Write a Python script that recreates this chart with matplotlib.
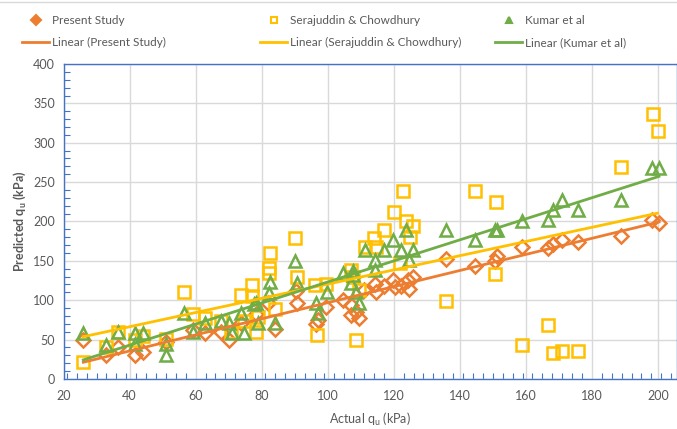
import numpy as np
import matplotlib
matplotlib.use("Agg")
import matplotlib.pyplot as plt
from matplotlib.lines import Line2D
from matplotlib.ticker import MultipleLocator

plt.rcParams['font.family'] = ['Lato', 'DejaVu Sans']

# Actual vs predicted bearing capacity (kPa)
present_x = [26, 33, 36.5, 41.5, 44, 51, 59.2, 62.7, 67.8, 70.1, 73.8, 78.4, 81.9, 84,
             90.5, 90.7, 96.5, 97, 99.6, 104.5, 107.2, 107.2, 108.7, 109.5, 110.9, 114.2,
             114.5, 117, 119.8, 120.3, 122.3, 124.4, 125.7, 124.7, 135.8, 144.7, 150.6,
             151.3, 158.7, 166.8, 168.1, 170.8, 175.9, 188.7, 198.3, 200.3]
present_y = [50, 31, 40, 31, 34, 47, 62, 59, 60, 50, 71, 82, 96, 63,
             112, 96, 70, 75, 92, 100, 94, 81, 85, 77, 113, 121,
             110, 118, 126, 117, 118, 126, 129, 114, 153, 143.5, 150,
             156, 168, 166, 172, 176.5, 174, 181, 202, 198.5]

seraj_x = [26, 33, 36.5, 41.5, 44, 51, 56.4, 59.2, 62.7, 67.8, 70.8, 73.8, 74.8, 77.2,
           77.2, 78.9, 78.2, 82.2, 82.4, 82.2, 84, 90, 90.7, 96.9, 96.1, 99.4, 107.2,
           107.7, 108.7, 109.5, 111.2, 113.9, 114.5, 117, 120.1, 121.8, 122.8, 123.8,
           125.9, 124.9, 135.8, 144.7, 151.1, 150.6, 158.7, 166.8, 168.1, 170.8, 175.9,
           188.7, 198.4, 199.9]
seraj_y = [21, 40, 60, 50, 55, 51, 111, 82.5, 77, 73, 60, 107, 73, 119,
           106, 79, 60, 140.5, 160, 135, 88.5, 179, 129, 56, 119, 121, 138,
           130, 49.5, 113, 168, 179, 167, 189, 212.5, 147, 239, 200,
           194, 180, 99.5, 239, 225, 133, 43, 69, 33, 35, 35,
           269, 336.5, 315]

kumar_x = [26, 33, 36.5, 41.5, 41.5, 44, 51, 51, 56.4, 59.2, 62.7, 67.8, 70.1, 71.1,
           73.8, 74.8, 77.6, 78.4, 79, 82.4, 82.2, 84, 90.2, 90.7, 96.6, 97.1, 99.8,
           104.5, 107.7, 107.7, 107.2, 108.7, 109.5, 111.2, 114.2, 114.2, 117, 119.8,
           122.3, 123.6, 124.7, 125.9, 135.8, 144.7, 150.6, 151.3, 158.7, 166.8, 168.1,
           170.8, 175.9, 188.7, 198.3, 200.3]
kumar_y = [58, 43, 60, 58, 44, 58, 44, 31, 84, 60, 71, 73, 71.5, 59,
           84, 59, 95, 96, 71.5, 123.6, 109, 71.5, 150, 122, 97, 84, 110,
           135, 137.6, 132, 122, 111, 96, 164, 151, 138, 164, 176.5,
           164, 189, 151, 164, 189, 176.5, 189, 189, 201, 202, 215,
           227, 215, 227, 267.5, 267.5]

x_ticks = [20, 40, 60, 80, 100, 120, 140, 160, 180, 200]
y_ticks = [0, 50, 100, 150, 200, 250, 300, 350, 400]

orange = '#ED7D31'
yellow = '#FFC000'
green = '#70AD47'
grey_text = '#595959'
axis_blue = '#4472C4'

fig = plt.figure(figsize=(6.77, 4.29), dpi=100)
ax = fig.add_axes([0.0938, 0.1166, 1 - 0.0938, 0.7342])

ax.set_xlim(20, 20 + (677 - 64) / 3.3)
ax.set_ylim(0, 400)
ax.set_xticks(x_ticks)
ax.set_yticks(y_ticks)
ax.xaxis.set_minor_locator(MultipleLocator(3))
ax.yaxis.set_minor_locator(MultipleLocator(10))
ax.grid(True, which='major', color='#D9D9D9', lw=1)
ax.set_axisbelow(True)
for s in ax.spines.values():
    s.set_color(axis_blue)
    s.set_linewidth(1.0)
ax.tick_params(which='major', length=0, labelsize=9, colors=grey_text, pad=8)
ax.tick_params(which='minor', direction='in', length=4, color=axis_blue, width=0.8)
ax.tick_params(axis='y', pad=6)

series = [
    (present_x, present_y, orange, 'D', 7, 'Present Study'),
    (seraj_x, seraj_y, yellow, 's', 8.5, 'Serajuddin & Chowdhury'),
    (kumar_x, kumar_y, green, '^', 8.5, 'Kumar et al'),
]

for xs, ys, col, mk, ms, name in series:
    ax.plot(xs, ys, ls='none', marker=mk, ms=ms, mfc='none', mec=col, mew=1.8, zorder=3)

for xs, ys, col, mk, ms, name in series:
    xs = np.asarray(xs); ys = np.asarray(ys)
    k, b = np.polyfit(xs, ys, 1)
    xl = np.array([xs.min(), xs.max()])
    ax.plot(xl, k * xl + b, color=col, lw=2, zorder=4)

ax.set_xlabel('Actual q$_\\mathregular{u}$ (kPa)', fontsize=9, color=grey_text, labelpad=6)
ax.set_ylabel('Predicted q$_\\mathregular{u}$ (kPa)', fontsize=9, color=grey_text,
              fontweight='bold', labelpad=4)

# legend: one column per series, marker entry above its trend line
col_x = [22 / 677, 260 / 677, 495 / 677]
for (xs, ys, col, mk, ms, name), x0 in zip(series, col_x):
    h_mark = Line2D([], [], ls='none', marker=mk, ms=5,
                    mfc=col if mk != 's' else 'none', mec=col, mew=1.5)
    h_line = Line2D([], [], color=col, lw=2)
    leg = fig.legend([h_mark, h_line], [name, 'Linear (%s)' % name],
                     loc='upper left', bbox_to_anchor=(x0, 0.965), frameon=False,
                     fontsize=8.5, handlelength=2.3, handletextpad=0.2,
                     labelspacing=0.95, borderaxespad=0, borderpad=0)
    for t in leg.get_texts():
        t.set_color(grey_text)

fig.add_artist(Line2D([0, 1], [0.996, 0.996], color='#D9D9D9', lw=1))

fig.savefig('out.png', dpi=100)
